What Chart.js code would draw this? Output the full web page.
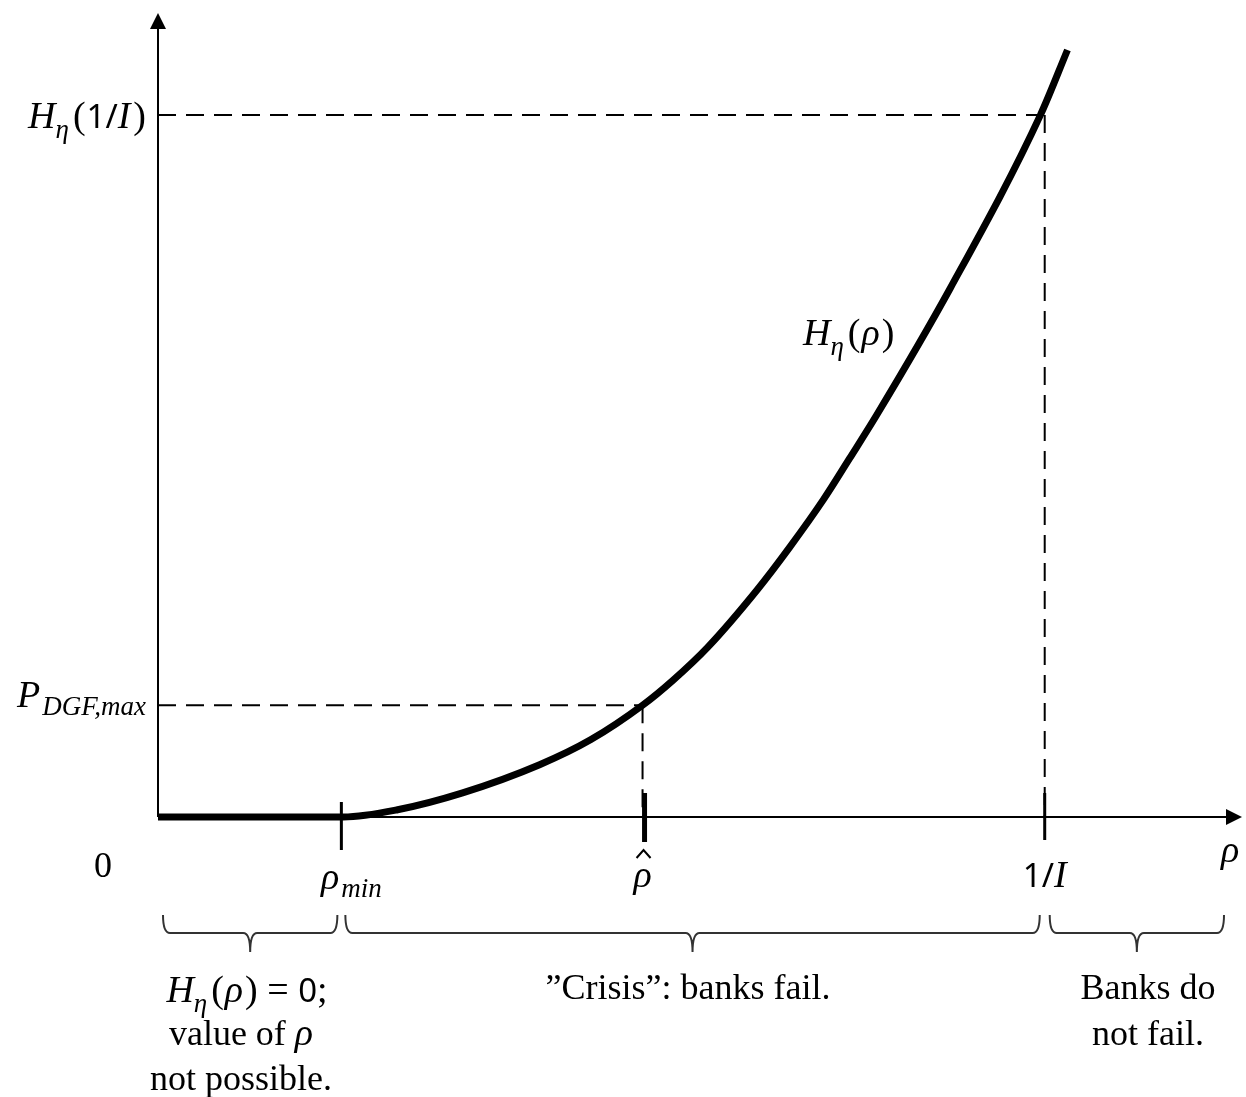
<!DOCTYPE html>
<html>
<head>
<meta charset="utf-8">
<script src="https://cdn.jsdelivr.net/npm/chart.js@4.4.1/dist/chart.umd.min.js"></script>
<style>
  html, body { margin: 0; padding: 0; background: #fff; }
  #wrap { width: 1246px; height: 1097px; }
</style>
</head>
<body>
<div id="wrap"><canvas id="chart" width="1246" height="1097"></canvas></div>
<script>
// H_eta(rho) curve (both axes run 0..10)
const rhoValues = [0, 1.71, 2.21, 2.81, 3.52, 3.99, 4.47, 4.75, 5.07, 5.53, 5.83, 6.14, 6.38, 6.63, 7.31, 8.14, 8.39];
const hValues   = [0, 0,    0.09, 0.30, 0.65, 0.96, 1.39, 1.70, 2.11, 2.83, 3.36, 3.95, 4.46, 5.00, 6.58, 8.73, 9.54];

// marked points on the axes
const rhoMin = 1.71;
const rhoHat = 4.47;
const oneOverI = 8.18;
const pDgfMax = 1.39;
const hOneOverI = 8.73;
const axisMax = [10, 10];

const MI = 'italic 38px "Liberation Serif"';
const MU = '38px "Liberation Serif"';
const MD = '33px "Noto Sans"';
const SUB = 'italic 27px "Liberation Serif"';
const TXT = '36px "Liberation Serif"';

// draw a row of text pieces (for sub-scripts etc.)
function runs(ctx, parts, x, y, align) {
    let w = 0;
    parts.forEach(p => {
        ctx.font = p.f;
        p.w = ctx.measureText(p.t).width + (p.gap || 0);
        w += p.w;
    });
    let cx = align === 'right' ? x - w : align === 'center' ? x - w / 2 : x;
    parts.forEach(p => {
        ctx.font = p.f;
        ctx.fillText(p.t, cx, y + (p.dy || 0));
        cx += p.w;
    });
}

function brace(ctx, x1, x2, yTop, yLine, yTip) {
    const xm = (x1 + x2) / 2, r = 7;
    ctx.beginPath();
    ctx.moveTo(x1, yTop);
    ctx.quadraticCurveTo(x1, yLine, x1 + r, yLine);
    ctx.lineTo(xm - r, yLine);
    ctx.quadraticCurveTo(xm, yLine, xm, yTip);
    ctx.quadraticCurveTo(xm, yLine, xm + r, yLine);
    ctx.lineTo(x2 - r, yLine);
    ctx.quadraticCurveTo(x2, yLine, x2, yTop);
    ctx.stroke();
}

const axesPlugin = {
    id: 'axes',
    beforeDatasetsDraw(chart) {
        const ctx = chart.ctx, a = chart.chartArea;
        const x0 = chart.scales.x.getPixelForValue(0);
        const y0 = chart.scales.y.getPixelForValue(0);
        ctx.save();
        ctx.strokeStyle = '#000';
        ctx.fillStyle = '#000';
        ctx.lineWidth = 2;
        ctx.beginPath();
        ctx.moveTo(x0, y0);
        ctx.lineTo(x0, a.top + 10);
        ctx.moveTo(x0, y0);
        ctx.lineTo(a.right - 10, y0);
        ctx.stroke();
        // arrow heads
        ctx.beginPath();
        ctx.moveTo(x0, a.top);
        ctx.lineTo(x0 - 8, a.top + 16);
        ctx.lineTo(x0 + 8, a.top + 16);
        ctx.closePath();
        ctx.moveTo(a.right, y0);
        ctx.lineTo(a.right - 16, y0 - 8);
        ctx.lineTo(a.right - 16, y0 + 8);
        ctx.closePath();
        ctx.fill();
        ctx.restore();
    },
    afterDatasetsDraw(chart) {
        const ctx = chart.ctx, a = chart.chartArea;
        const xs = chart.scales.x, ys = chart.scales.y;
        const y0 = ys.getPixelForValue(0);
        const pMin = xs.getPixelForValue(rhoMin);
        const pHat = xs.getPixelForValue(rhoHat);
        const pOne = xs.getPixelForValue(oneOverI);
        ctx.save();
        ctx.strokeStyle = '#000';
        ctx.fillStyle = '#000';
        // tick marks
        ctx.lineWidth = 3;
        ctx.beginPath();
        ctx.moveTo(pMin - 2, y0 - 15); ctx.lineTo(pMin - 2, y0 + 33);
        ctx.moveTo(pOne, y0 - 24); ctx.lineTo(pOne, y0 + 23);
        ctx.stroke();
        ctx.lineWidth = 5;
        ctx.beginPath();
        ctx.moveTo(pHat + 2, y0 - 24); ctx.lineTo(pHat + 2, y0 + 25);
        ctx.stroke();

        // axis labels
        ctx.textBaseline = 'alphabetic';
        runs(ctx, [{t: 'H', f: MI}, {t: 'η', f: SUB, dy: 10, gap: 4}, {t: '(', f: MU, gap: 1}, {t: '1', f: MD},
            {t: '/', f: MD}, {t: 'I', f: MI, gap: 3}, {t: ')', f: MU}], 146, ys.getPixelForValue(hOneOverI) + 13, 'right');
        runs(ctx, [{t: 'P', f: MI, gap: 2}, {t: 'DGF,max', f: SUB, dy: 8}], 146, ys.getPixelForValue(pDgfMax) + 2, 'right');
        runs(ctx, [{t: '0', f: TXT}], 103, y0 + 60, 'center');
        runs(ctx, [{t: 'ρ', f: MI, gap: 2}, {t: 'min', f: SUB, dy: 8}], pMin + 8, y0 + 72, 'center');
        runs(ctx, [{t: 'ρ', f: MI}], pHat, y0 + 70, 'center');
        // hat over rho
        ctx.lineWidth = 2;
        ctx.beginPath();
        ctx.moveTo(pHat - 6, y0 + 41);
        ctx.lineTo(pHat + 1, y0 + 33);
        ctx.lineTo(pHat + 8, y0 + 41);
        ctx.stroke();
        runs(ctx, [{t: '1', f: MD}, {t: '/', f: MD}, {t: 'I', f: MI}], pOne, y0 + 70, 'center');
        runs(ctx, [{t: 'ρ', f: MI}], a.right - 12, y0 + 45, 'center');
        runs(ctx, [{t: 'H', f: MI}, {t: 'η', f: SUB, dy: 10, gap: 4}, {t: '(', f: MU, gap: 1}, {t: 'ρ', f: MI, gap: 2}, {t: ')', f: MU}],
            803, 345, 'left');

        // braces
        ctx.strokeStyle = '#333';
        ctx.lineWidth = 2;
        const x0 = xs.getPixelForValue(0);
        brace(ctx, x0 + 5, pMin - 6, 915, 933, 952);
        brace(ctx, pMin + 2, pOne - 5, 915, 933, 952);
        brace(ctx, pOne + 5, a.right - 18, 915, 933, 952);

        // region notes
        runs(ctx, [{t: 'H', f: MI}, {t: 'η', f: SUB, dy: 10, gap: 4}, {t: '(', f: MU, gap: 1}, {t: 'ρ', f: MI, gap: 2}, {t: ')', f: MU},
            {t: ' = ', f: MU}, {t: '0', f: MD}, {t: ';', f: MU}], 247, 1002, 'center');
        runs(ctx, [{t: 'value of ', f: TXT}, {t: 'ρ', f: MI}], 241, 1045, 'center');
        runs(ctx, [{t: 'not possible.', f: TXT}], 241, 1090, 'center');
        runs(ctx, [{t: '”Crisis”: banks fail.', f: TXT}], 688, 999, 'center');
        runs(ctx, [{t: 'Banks do', f: TXT}], 1148, 999, 'center');
        runs(ctx, [{t: 'not fail.', f: TXT}], 1148, 1045, 'center');
        ctx.restore();
    }
};

function dashed(points) {
    return {
        data: points,
        borderColor: '#000',
        borderWidth: 2,
        borderDash: [18, 10],
        pointRadius: 0,
        fill: false,
        clip: false,
        order: 1
    };
}

const ctx = document.getElementById('chart').getContext('2d');
new Chart(ctx, {
    type: 'line',
    data: {
        datasets: [
            {
                data: rhoValues.map((x, i) => ({x: x, y: hValues[i]})),
                borderColor: '#000',
                borderWidth: 7,
                cubicInterpolationMode: 'monotone',
                pointRadius: 0,
                fill: false,
                clip: false,
                order: 0
            },
            dashed([{x: 0, y: pDgfMax}, {x: rhoHat, y: pDgfMax}]),
            dashed([{x: rhoHat, y: pDgfMax}, {x: rhoHat, y: 0}]),
            dashed([{x: 0, y: hOneOverI}, {x: oneOverI, y: hOneOverI}]),
            dashed([{x: oneOverI, y: hOneOverI}, {x: oneOverI, y: 0}])
        ]
    },
    options: {
        responsive: false,
        animation: false,
        devicePixelRatio: 1,
        layout: { padding: { left: 158, right: 4, top: 13, bottom: 280 } },
        scales: {
            x: { type: 'linear', min: 0, max: axisMax[0], display: false },
            y: { type: 'linear', min: 0, max: axisMax[1], display: false }
        },
        plugins: { legend: { display: false }, tooltip: { enabled: false } }
    },
    plugins: [axesPlugin]
});
</script>
</body>
</html>
